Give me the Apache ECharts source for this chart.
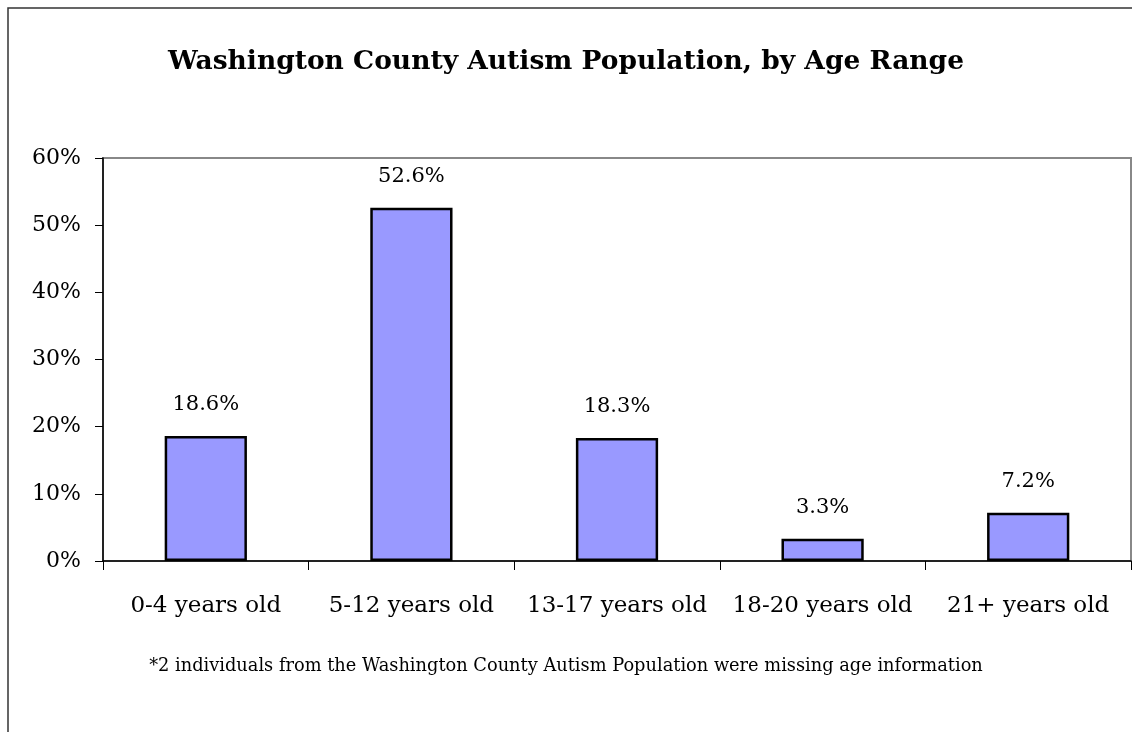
<!DOCTYPE html>
<html>
<head>
<meta charset="utf-8">
<script src="https://cdn.jsdelivr.net/npm/echarts@6/dist/echarts.min.js"></script>
<style>
  html, body { margin: 0; padding: 0; background: #ffffff; }
  #chart { width: 1132px; height: 732px; }
</style>
</head>
<body>
<div id="chart"></div>
<script>
// Age ranges and share of the population in each (percent)
const categories = ['0-4 years old', '5-12 years old', '13-17 years old', '18-20 years old', '21+ years old'];
const shares = [18.6, 52.6, 18.3, 3.3, 7.2];
const titleText = 'Washington County Autism Population, by Age Range';
const footnote = '*2 individuals from the Washington County Autism Population were missing age information';

const serif = '"DejaVu Serif", "Liberation Serif", serif';

const chart = echarts.init(document.getElementById('chart'), null, { renderer: 'canvas' });

chart.setOption({
  backgroundColor: '#ffffff',
  animation: false,
  title: {
    text: titleText,
    left: 'center',
    top: 44,
    textStyle: { fontFamily: serif, fontWeight: 'bold', fontSize: 26.5, color: '#000' }
  },
  graphic: [
    {
      type: 'rect',
      shape: { x: 8, y: 8, width: 1200, height: 800 },
      style: { fill: 'none', stroke: '#333', lineWidth: 1.5 },
      silent: true
    },
    {
      type: 'text',
      left: 'center',
      top: 657,
      style: { text: footnote, font: '17.8px ' + serif, fill: '#000' }
    }
  ],
  grid: {
    left: 103, right: 1, top: 158, bottom: 171,
    show: true, borderColor: '#888', borderWidth: 2, backgroundColor: 'transparent'
  },
  xAxis: {
    type: 'category',
    data: categories,
    axisLine: { lineStyle: { color: '#000', width: 1.5 } },
    axisTick: { show: true, length: 9, alignWithLabel: false, lineStyle: { color: '#000', width: 1 } },
    axisLabel: { margin: 34, fontFamily: serif, fontSize: 23, color: '#000', interval: 0 }
  },
  yAxis: {
    type: 'value',
    min: 0, max: 60, interval: 10,
    axisLine: { show: true, lineStyle: { color: '#000', width: 1.5 } },
    axisTick: { show: true, length: 8, lineStyle: { color: '#000', width: 1 } },
    splitLine: { show: false },
    axisLabel: { formatter: '{value}%', margin: 22, fontFamily: serif, fontSize: 22, color: '#000' }
  },
  series: [{
    type: 'bar',
    data: shares,
    barWidth: '40%',
    itemStyle: { color: '#9999FF', borderColor: '#000', borderWidth: 2.5 },
    label: {
      show: true, position: 'top', distance: 21,
      formatter: p => p.value.toFixed(1) + '%',
      fontFamily: serif, fontSize: 21, color: '#000'
    }
  }]
});
</script>
</body>
</html>
